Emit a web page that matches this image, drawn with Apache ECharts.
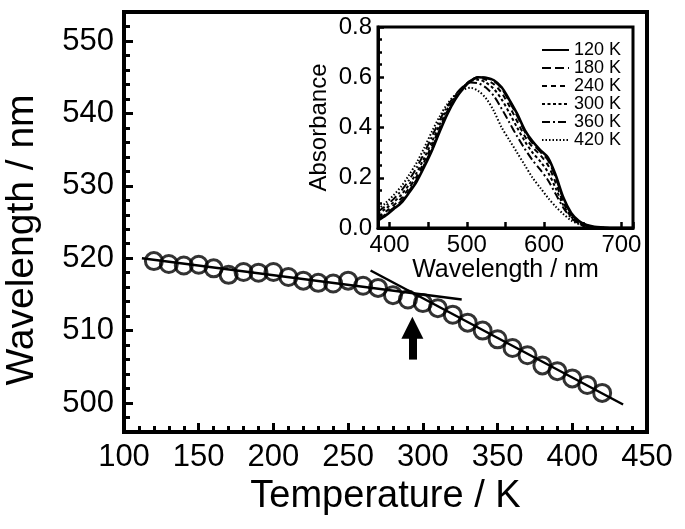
<!DOCTYPE html>
<html><head><meta charset="utf-8">
<script src="https://cdn.jsdelivr.net/npm/echarts@6/dist/echarts.min.js"></script>
<style>html,body{margin:0;padding:0;background:#fff}#c{width:685px;height:529px}</style>
</head><body><div id="c"></div>
<script>
// ---- Main plot data ----
const temperatures = [120,130,140,150,160,170,180,190,200,210,220,230,240,250,260,270,280,290,300,310,320,330,340,350,360,370,380,390,400,410,420];
const peakWavelengths = [519.6,519.2,519.0,519.1,518.6,517.7,518.1,518.0,518.1,517.4,516.9,516.6,516.5,516.9,516.2,515.9,514.9,514.3,513.8,513.1,512.2,511.1,510.0,508.8,507.6,506.6,505.2,504.4,503.4,502.5,501.4];
const fitLowT = [112, 326];
const fitLowW = [520.0, 514.3];
const fitHighT = [265, 434];
const fitHighW = [518.3, 499.8];
const arrowT = 293;
const arrowFromW = 506.0;
const arrowToW = 510.4;

const mainYTicks = [500,510,520,530,540,550];

// ---- Inset data ----
const spectraWl = [385,395,405,415,425,435,445,455,465,475,485,495,505,515,525,535,545,555,565,575,585,595,605,615,625,635,645,655,665,675,685,695,705,715];
const spectraLabels = ['120 K','180 K','240 K','300 K','360 K','420 K'];
const abs120 = [0.030,0.050,0.075,0.100,0.140,0.185,0.245,0.310,0.385,0.455,0.512,0.555,0.585,0.600,0.598,0.588,0.560,0.510,0.455,0.390,0.345,0.310,0.280,0.210,0.120,0.060,0.028,0.012,0.005,0.002,0,0,0,0];
const abs180 = [0.035,0.055,0.080,0.107,0.147,0.193,0.253,0.318,0.392,0.460,0.515,0.557,0.587,0.601,0.597,0.585,0.555,0.503,0.447,0.383,0.337,0.303,0.270,0.200,0.113,0.056,0.026,0.011,0.004,0.001,0,0,0,0];
const abs240 = [0.045,0.065,0.090,0.118,0.158,0.205,0.265,0.330,0.400,0.467,0.520,0.560,0.589,0.598,0.590,0.572,0.538,0.485,0.425,0.365,0.322,0.290,0.250,0.180,0.100,0.050,0.022,0.009,0.003,0.001,0,0,0,0];
const abs300 = [0.055,0.077,0.102,0.132,0.172,0.220,0.280,0.345,0.413,0.475,0.525,0.562,0.585,0.590,0.578,0.553,0.512,0.458,0.400,0.345,0.300,0.265,0.222,0.158,0.090,0.045,0.020,0.008,0.003,0.001,0,0,0,0];
const abs360 = [0.065,0.088,0.115,0.148,0.190,0.240,0.300,0.365,0.430,0.485,0.530,0.563,0.579,0.576,0.558,0.525,0.475,0.420,0.365,0.315,0.270,0.232,0.190,0.135,0.080,0.040,0.018,0.007,0.002,0,0,0,0,0];
const abs420 = [0.075,0.100,0.130,0.165,0.210,0.260,0.320,0.385,0.445,0.495,0.530,0.550,0.558,0.545,0.515,0.465,0.400,0.350,0.300,0.250,0.200,0.160,0.120,0.085,0.055,0.030,0.015,0.006,0.002,0,0,0,0,0];
const spectraValues = [abs120, abs180, abs240, abs300, abs360, abs420];
const spectraDash = ['solid',[9,4],[5,4],[3,2.5],[8,3,2,3],[1.5,2]];
const spectraWidth = [2.6,2,2,2,2,2];

const insetXTicks = [400,500,600,700];
const insetXMinor = [420,440,460,480,520,540,560,580,620,640,660,680];

const FONT = 'Liberation Sans, Arial, sans-serif';
const BLACK = '#000';

function valAxis(o) {
  return Object.assign({
    type: 'value', splitLine: {show: false},
    axisLine: {show: false}, axisLabel: {show: false}, axisTick: {show: false}
  }, o);
}
function tick(len, w) {
  return {show: true, inside: true, length: len, lineStyle: {color: BLACK, width: w}};
}

const chart = echarts.init(document.getElementById('c'), null, {renderer: 'canvas'});

const spectraSeries = spectraLabels.map((name, i) => ({
  name: name, type: 'line', xAxisIndex: 1, yAxisIndex: 2,
  data: spectraWl.map((w, j) => [w, spectraValues[i][j]]),
  symbol: 'none', smooth: 0.3, clip: true,
  lineStyle: {color: BLACK, width: spectraWidth[i], type: spectraDash[i]},
  itemStyle: {color: BLACK}, z: 5
}));

chart.setOption({
  animation: false,
  backgroundColor: '#fff',
  grid: [
    {left: 124, top: 12, width: 523, height: 420, show: true, borderColor: BLACK, borderWidth: 4,
     backgroundColor: 'transparent', containLabel: false, outerBoundsMode: 'none'},
    {left: 378, top: 27, width: 255, height: 201, show: true, borderColor: BLACK, borderWidth: 3,
     backgroundColor: 'transparent', containLabel: false, outerBoundsMode: 'none'}
  ],
  xAxis: [
    valAxis({gridIndex: 0, min: 100, max: 450, interval: 50, position: 'bottom',
      axisLine: {show: true, lineStyle: {color: BLACK, width: 4}},
      axisTick: tick(9, 3),
      minorTick: {show: true, splitNumber: 5, length: 6, lineStyle: {color: BLACK, width: 3}},
      axisLabel: {show: true, fontSize: 31, margin: 10, color: BLACK, fontFamily: FONT},
      name: 'Temperature / K', nameLocation: 'middle', nameGap: 42,
      nameTextStyle: {fontSize: 38, color: BLACK, fontFamily: FONT}}),
    valAxis({gridIndex: 1, min: 385, max: 715, position: 'bottom',
      axisLine: {show: true, lineStyle: {color: BLACK, width: 3}},
      axisTick: tick(6, 2.5),
      axisLabel: {show: true, customValues: insetXTicks, fontSize: 24, margin: 5, color: BLACK, fontFamily: FONT},
      name: 'Wavelength / nm', nameLocation: 'middle', nameGap: 25,
      nameTextStyle: {fontSize: 25, color: BLACK, fontFamily: FONT}}),
    valAxis({gridIndex: 1, min: 385, max: 715, position: 'bottom',
      axisTick: tick(4, 2.5),
      axisLabel: {show: true, customValues: insetXMinor, formatter: () => ''}})
  ],
  yAxis: [
    valAxis({gridIndex: 0, min: 496, max: 554, position: 'left',
      axisLine: {show: true, lineStyle: {color: BLACK, width: 4}},
      axisTick: tick(9, 3),
      axisLabel: {show: true, customValues: mainYTicks, fontSize: 31, margin: 10, color: BLACK, fontFamily: FONT},
      name: 'Wavelength / nm', nameLocation: 'middle', nameGap: 82,
      nameTextStyle: {fontSize: 39, color: BLACK, fontFamily: FONT, padding: [0, 36, 0, 0]}}),
    valAxis({gridIndex: 0, min: 496, max: 554, interval: 2, position: 'left',
      axisTick: tick(6, 3)}),
    valAxis({gridIndex: 1, min: 0, max: 0.8, interval: 0.2, position: 'left',
      axisLine: {show: true, lineStyle: {color: BLACK, width: 3}},
      axisTick: tick(6, 2.5),
      minorTick: {show: true, splitNumber: 4, length: 4, lineStyle: {color: BLACK, width: 2.5}},
      axisLabel: {show: true, fontSize: 24, margin: 6, color: BLACK, fontFamily: FONT,
        formatter: v => Number(v).toFixed(1)},
      name: 'Absorbance', nameLocation: 'middle', nameGap: 47,
      nameTextStyle: {fontSize: 24, color: BLACK, fontFamily: FONT}})
  ],
  legend: {
    data: spectraLabels, orient: 'vertical', left: 536, top: 36,
    itemWidth: 27, itemHeight: 10, itemGap: 0,
    itemStyle: {color: 'rgba(0,0,0,0)', borderWidth: 0, opacity: 0},
    textStyle: {fontSize: 18, lineHeight: 18, color: BLACK, fontFamily: FONT},
    z: 10
  },
  series: [
    {type: 'line', xAxisIndex: 0, yAxisIndex: 0, symbol: 'none',
     data: fitLowT.map((t, i) => [t, fitLowW[i]]),
     lineStyle: {color: BLACK, width: 2.5}, z: 2},
    {type: 'line', xAxisIndex: 0, yAxisIndex: 0, symbol: 'none',
     data: fitHighT.map((t, i) => [t, fitHighW[i]]),
     lineStyle: {color: BLACK, width: 2.5}, z: 2,
     markLine: {
       silent: true, symbol: ['none', 'triangle'], symbolSize: 22,
       label: {show: false},
       lineStyle: {color: BLACK, width: 8, type: 'solid'},
       itemStyle: {color: BLACK},
       data: [[{coord: [arrowT, arrowFromW]}, {coord: [arrowT, arrowToW]}]]
     }},
    {type: 'scatter', xAxisIndex: 0, yAxisIndex: 0, symbol: 'circle', symbolSize: 17,
     data: temperatures.map((t, i) => [t, peakWavelengths[i]]),
     itemStyle: {color: 'rgba(0,0,0,0)', borderColor: BLACK, borderWidth: 3}, z: 3}
  ].concat(spectraSeries)
});
</script></body></html>
